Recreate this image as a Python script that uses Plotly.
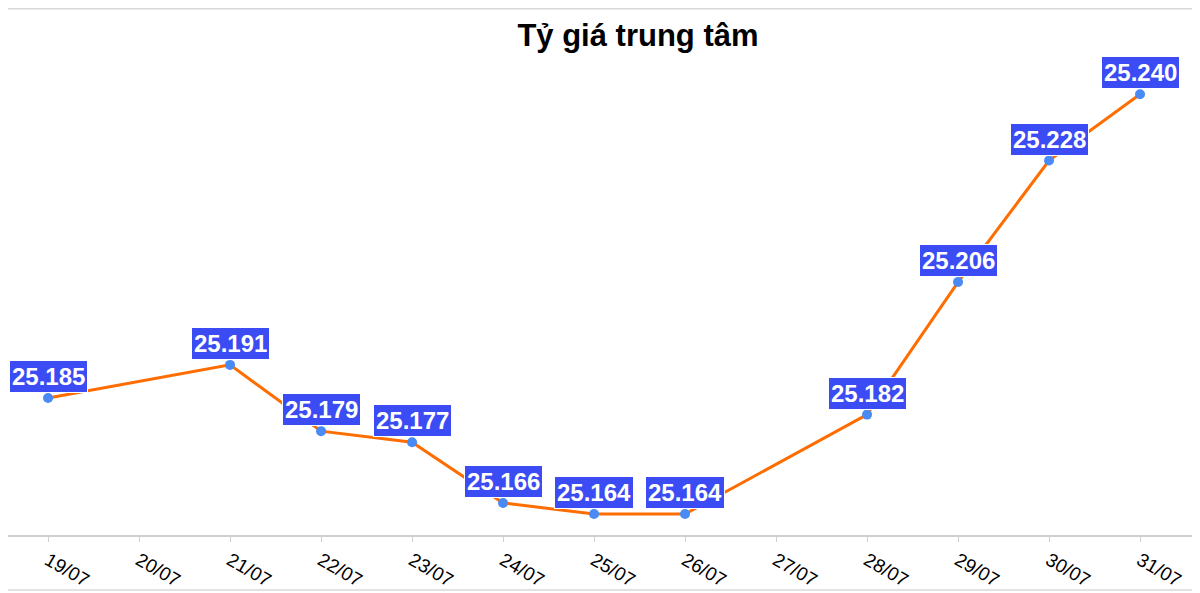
import plotly.graph_objects as go

# dữ liệu tỷ giá trung tâm (VND/USD), None = ngày không có số liệu
dates = ["19/07", "20/07", "21/07", "22/07", "23/07", "24/07", "25/07",
         "26/07", "27/07", "28/07", "29/07", "30/07", "31/07"]
rates = [25185, None, 25191, 25179, 25177, 25166, 25164,
         25164, None, 25182, 25206, 25228, 25240]


def fmt_vn(v):
    # định dạng kiểu Việt Nam: dấu chấm phân cách hàng nghìn
    return f"{v:,}".replace(",", ".")


fig = go.Figure()

fig.add_trace(go.Scatter(
    x=dates,
    y=rates,
    mode="lines+markers",
    connectgaps=True,
    line=dict(color="#ff6d00", width=3),
    marker=dict(color="#4a8af4", size=10),
    showlegend=False,
    hoverinfo="skip"
))

# nhãn giá trị nền xanh
for d, v in zip(dates, rates):
    if v is None:
        continue
    fig.add_annotation(
        x=d, y=v, xref="x", yref="y",
        text="<b>" + fmt_vn(v) + "</b>",
        showarrow=False,
        yanchor="bottom",
        yshift=5,
        font=dict(family="Liberation Sans, Arial", size=24, color="white"),
        bgcolor="#3b4cf5",
        bordercolor="#ffffff",
        borderwidth=1,
        borderpad=2
    )

# đường viền trên và dưới
for yy in [1.108, -0.116]:
    fig.add_shape(type="line", xref="paper", yref="paper",
                  x0=0, x1=1, y0=yy, y1=yy,
                  line=dict(color="#d9d9d9", width=1.5))

# trang có lề 8px nên kích thước hình nhỏ hơn cửa sổ
fig.update_layout(
    title=dict(
        text="<b>Tỷ giá trung tâm</b>",
        x=0.5285, xanchor="center",
        y=0.954, yanchor="middle",
        font=dict(family="Liberation Sans, Arial", size=31, color="black")
    ),
    width=1192,
    height=585,
    margin=dict(t=52, b=58, l=0, r=0, autoexpand=False),
    plot_bgcolor="white",
    paper_bgcolor="white",
    font=dict(family="Liberation Sans, Arial"),
)

fig.update_xaxes(
    type="category",
    range=[-0.44, 12.659],
    showgrid=False,
    showline=True,
    linecolor="#d0d0d0",
    linewidth=2,
    ticks="outside",
    ticklen=5,
    tickcolor="#d0d0d0",
    tickangle=30,
    tickfont=dict(size=19, color="black"),
    fixedrange=True
)
fig.update_yaxes(
    range=[25160.2, 25246.2],
    showgrid=False,
    showticklabels=False,
    zeroline=False,
    showline=False,
    fixedrange=True
)

fig.write_html("out.html")
